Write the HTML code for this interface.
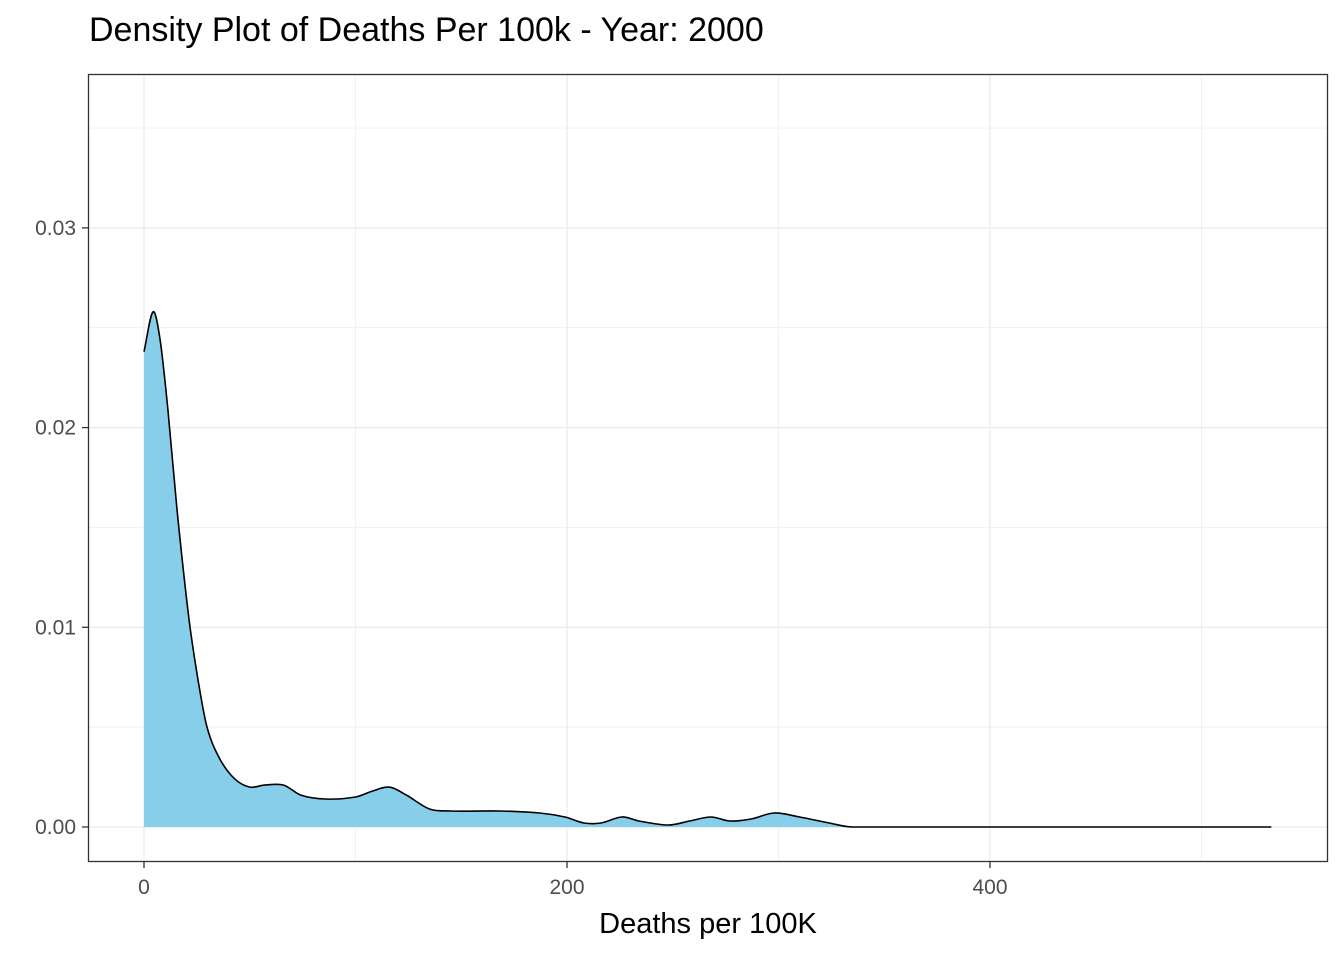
<!DOCTYPE html>
<html><head><meta charset="utf-8"><style>
body{margin:0;background:#fff;font-family:"Liberation Sans",Arial,sans-serif}
</style></head><body>
<svg id="chart" width="1344" height="960" xmlns="http://www.w3.org/2000/svg">
<text x="89" y="41" font-size="34" fill="#000">Density Plot of Deaths Per 100k - Year: 2000</text>
<g id="grid"></g>
<path id="area" fill="#87CEEB" stroke="none"/>
<path id="line" fill="none" stroke="#000" stroke-width="1.6"/>
<rect x="88.5" y="74.5" width="1239" height="787" fill="none" stroke="#333" stroke-width="1.3"/>
<g id="axes"></g>
<text x="708" y="933" font-size="29" text-anchor="middle" fill="#000">Deaths per 100K</text>
</svg>
<script>
const xs=[0,4.3,7.6,11.3,15.6,21.3,25.5,29.8,35.9,43,50,57,66,74,85.6,100,108,116,124,135,145,168,187,199,208,216,226,234,248,258,268,277,287,298,310,324,335,533];
const ds=[0.0238,0.0258,0.0244,0.0209,0.0159,0.0104,0.0074,0.0050,0.0034,0.0024,0.0020,0.0021,0.0021,0.0016,0.0014,0.0015,0.0018,0.0020,0.0016,0.0009,0.0008,0.0008,0.0007,0.0005,0.0002,0.0002,0.0005,0.0003,0.0001,0.0003,0.0005,0.0003,0.0004,0.0007,0.0005,0.0002,0,0];
const xTicks=[0,200,400];
const yTicks=[0,0.01,0.02,0.03];
const xTickLabels=["0","200","400"];
const yTickLabels=["0.00","0.01","0.02","0.03"];
const X=v=>144+v*2.115, Y=v=>827-v*19970;
const NS="http://www.w3.org/2000/svg";
const grid=document.getElementById('grid'), axes=document.getElementById('axes');
function ln(p,x1,y1,x2,y2,c,w,name){const l=document.createElementNS(NS,'line');l.setAttribute('x1',x1);l.setAttribute('y1',y1);l.setAttribute('x2',x2);l.setAttribute('y2',y2);l.setAttribute('stroke',c);l.setAttribute('stroke-width',w);


p.appendChild(l);}
function tx(x,y,s,a,name){const t=document.createElementNS(NS,'text');t.setAttribute('x',x);t.setAttribute('y',y);t.setAttribute('font-size','21');t.setAttribute('fill','#4d4d4d');t.setAttribute('text-anchor',a);t.textContent=s;


axes.appendChild(t);}
for(let v=0;v<=500;v+=100){ln(grid,X(v),75,X(v),861,'#ebebeb',v%200==0?1.3:0.7,'x-gridline');}
for(let v=0;v<=0.035;v+=0.005){ln(grid,89,Y(v),1327,Y(v),'#ebebeb',Math.round(v*1000)%10==0?1.3:0.7,'y-gridline');}
xTicks.forEach((v,i)=>{ln(axes,X(v),862,X(v),868,'#333',1.3,'x-tick');tx(X(v),894,xTickLabels[i],'middle','x-tick-label');});
yTicks.forEach((v,i)=>{ln(axes,82,Y(v),88,Y(v),'#333',1.3,'y-tick');tx(76,Y(v)+7,yTickLabels[i],'end','y-tick-label');});
const P=xs.map((x,i)=>[X(x),Y(ds[i])]);
const n=P.length;
const m=P.map((p,i)=>{
  if(i===0) return (P[1][1]-P[0][1])/(P[1][0]-P[0][0]);
  if(i===n-1) return 0;
  if(ds[i]===0) return 0;
  return (P[i+1][1]-P[i-1][1])/(P[i+1][0]-P[i-1][0]);
});
let d='M'+P[0][0].toFixed(1)+','+P[0][1].toFixed(1);
const Y0=Y(0);
for(let i=0;i<n-1;i++){
  const h=(P[i+1][0]-P[i][0])/3;
  const c1=[P[i][0]+h,Math.min(P[i][1]+h*m[i],Y0)];
  const c2=[P[i+1][0]-h,Math.min(P[i+1][1]-h*m[i+1],Y0)];
  d+=` C${c1[0].toFixed(1)},${c1[1].toFixed(1)} ${c2[0].toFixed(1)},${c2[1].toFixed(1)} ${P[i+1][0].toFixed(1)},${P[i+1][1].toFixed(1)}`;
}
document.getElementById('line').setAttribute('d',d);
document.getElementById('area').setAttribute('d',d+` L${X(xs[n-1])},${Y0} L${X(xs[0])},${Y0} Z`);
</script>
</body></html>
